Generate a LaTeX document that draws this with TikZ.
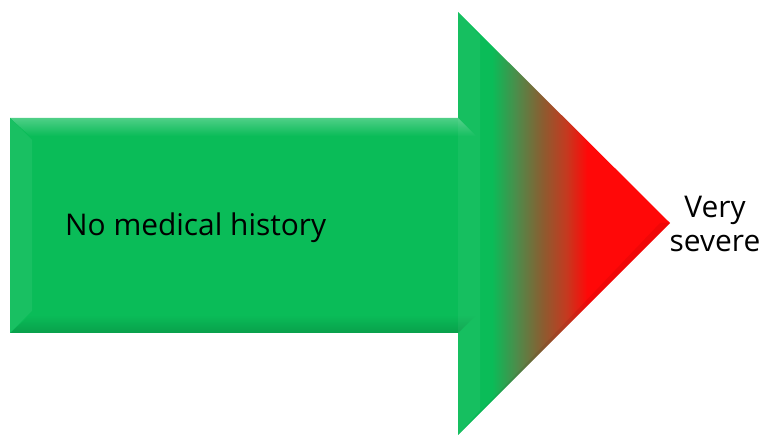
\documentclass[tikz,border=0pt]{standalone}
\usepackage{fontspec}
\setmainfont{Open Sans}
\definecolor{arrowgreen}{HTML}{0ABC58}
\definecolor{arrowolive}{HTML}{4F8A4A}
\definecolor{arrowbrown}{HTML}{8C5C30}
\definecolor{arrowrust}{HTML}{C43A20}
\definecolor{arrowred}{HTML}{FF0808}
\pgfdeclarehorizontalshading{headshade}{100bp}{color(0bp)=(arrowgreen); color(33bp)=(arrowgreen); color(39bp)=(arrowolive); color(45bp)=(arrowbrown); color(50.5bp)=(arrowrust); color(55.5bp)=(arrowred); color(100bp)=(arrowred)}
\begin{document}
\begin{tikzpicture}[x=1bp,y=-1bp,label/.style={font=\fontsize{30}{34}\selectfont,align=center,inner sep=0pt}]
      \useasboundingbox (0,0) rectangle (766,435);
      \fill[arrowgreen] (10,118) rectangle (460,333);
      \shade[shading=headshade] (458,12) -- (670,223) -- (458,435) -- cycle;
      \shade[top color=arrowgreen!72!white,bottom color=arrowgreen] (10,118) -- (458,118) -- (476,136) -- (30,136) -- cycle;
      \shade[top color=arrowgreen,bottom color=arrowgreen!85!black] (10,333) -- (30,315) -- (476,315) -- (458,333) -- cycle;
      \fill[arrowgreen!94!white] (10,118) -- (32,140) -- (32,311) -- (10,333) -- cycle;
      \fill[white,opacity=0.05] (458,12) -- (480,36) -- (480,410) -- (458,435) -- cycle;
      \fill[black,opacity=0.06] (458,435) -- (670,223) -- (660,223) -- (480,412) -- cycle;
      \node[label,anchor=base west] (history) at (65,236) {No medical history};
      \node[label] (severe) at (715,224) {Very\\severe};
    \end{tikzpicture}
\end{document}
